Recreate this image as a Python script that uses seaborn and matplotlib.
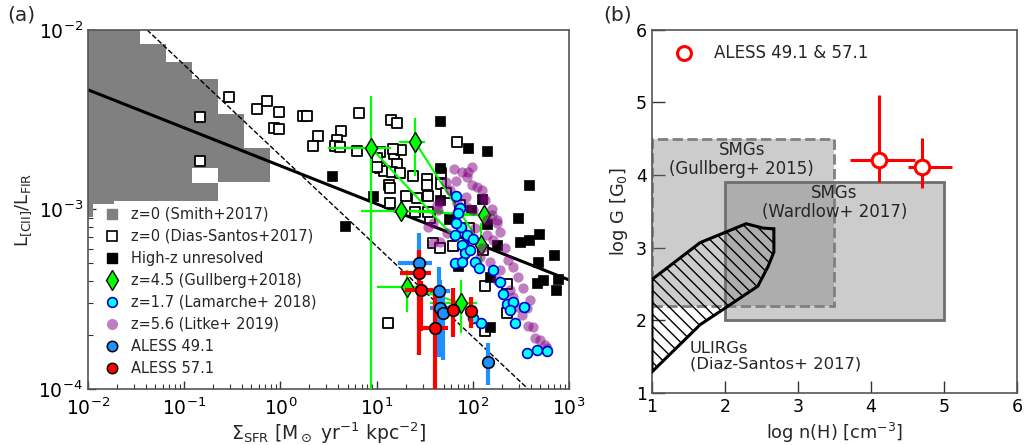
import numpy as np
import matplotlib
matplotlib.use("Agg")
import matplotlib.pyplot as plt
from matplotlib.lines import Line2D
from matplotlib.patches import Polygon, Rectangle
import seaborn as sns

# ---------------- panel (a) data, all in log10 ----------------
# Smith+2017 z=0 binned region (column edges, top and bottom of each column)
smith_edges = [-2.0, -1.95, -1.73, -1.46, -1.19, -0.92, -0.65, -0.38, -0.11]
smith_top = [-1.9, -1.9, -1.9, -2.078, -2.178, -2.273, -2.468, -2.657]
smith_bot = [-3.04, -2.97, -2.953, -2.953, -2.953, -2.953, -2.847, -2.847]
smith_hole_x = [-0.92, -0.65]
smith_hole_y = [-2.852, -2.769]

# fit lines
fit_x = [-2.0, 3.0]
fit_y = [-2.334, -3.393]
dash_x = [-1.387, 2.574]
dash_y = [-2.0, -4.0]

# Dias-Santos+2017 z=0
ds_x = [-0.836, -0.836, -0.534, -0.243, -0.139, -0.015, -0.067, -0.015, 0.235, 0.277,
        0.391, 0.339, 0.630, 0.588, 0.568, 0.620, 0.817, 0.796, 1.035, 1.150,
        1.212, 1.181, 1.254, 1.170, 1.004, 1.212, 1.035, 1.077, 1.160, 1.243,
        1.004, 1.378, 1.524, 1.524, 1.669, 1.669, 1.129, 1.139, 1.306, 1.420,
        1.534, 1.721, 1.139, 1.399, 1.555, 1.534, 1.836, 1.867, 1.960, 1.586,
        1.659, 1.794, 2.106, 2.127, 2.356, 2.356, 2.127, 1.119]
ds_y = [-2.485, -2.730, -2.373, -2.440, -2.396, -2.457, -2.546, -2.552, -2.479, -2.479,
        -2.591, -2.646, -2.563, -2.613, -2.646, -2.652, -2.462, -2.674, -2.680, -2.501,
        -2.518, -2.691, -2.669, -2.663, -2.713, -2.747, -2.769, -2.786, -2.791, -2.797,
        -2.763, -2.813, -2.830, -2.864, -2.797, -2.858, -2.864, -2.880, -2.925, -2.936,
        -2.925, -2.908, -2.964, -3.014, -3.047, -3.014, -2.624, -2.975, -3.103, -3.187,
        -3.214, -3.203, -3.226, -3.426, -3.415, -3.577, -3.677, -3.632]

# high-z unresolved
hz_x = [0.536, 0.672, 1.659, 1.950, 2.148, 1.659, 0.963, 2.584, 2.096, 1.659,
        1.981, 1.753, 2.470, 2.148, 2.252, 2.491, 2.584, 2.688, 2.844, 2.678,
        2.730, 2.886, 2.865, 2.179, 1.846, 2.179, 2.667]
hz_y = [-2.813, -3.092, -2.507, -2.657, -2.674, -2.769, -2.925, -2.864, -2.942, -2.947,
        -3.003, -3.053, -3.047, -3.081, -3.198, -3.181, -3.170, -3.136, -3.253, -3.292,
        -3.393, -3.387, -3.448, -3.376, -3.315, -3.655, -3.409]

# Gullberg+2018 z=4.5
g_x = [0.942, 1.399, 1.254, 2.116, 2.085, 1.316, 1.877, 1.929]
g_y = [-2.657, -2.624, -3.008, -3.031, -3.198, -3.432, -3.521, -3.226]
g_xlo = [0.495, 1.233, 0.838, 1.898, 2.055, 1.004, 1.555, 1.90]
g_xhi = [1.150, 1.503, 1.690, 2.231, 2.115, 1.482, 2.044, 1.96]
g_ylo = [-4.5, -2.813, -3.04, -3.08, -3.320, -3.571, -3.688, -3.26]
g_yhi = [-2.368, -2.490, -2.98, -2.98, -3.075, -3.337, -3.393, -3.19]
g_pairs = [(0, 7), (1, 4), (2, 3), (5, 6)]

# Litke+2019 z=5.6
lk_x = [1.805, 1.888, 1.950, 1.992, 1.940, 1.825, 1.721, 1.992, 2.044, 2.096,
        2.127, 2.200, 2.252, 1.628, 1.534, 2.148, 1.940, 1.836, 1.929, 2.106,
        1.586, 1.638, 1.836, 2.002, 2.200, 2.252, 2.283, 2.210, 2.335, 2.366,
        2.418, 2.470, 2.387, 2.522, 2.595, 2.563, 2.511, 2.574, 2.626, 2.647,
        2.699, 2.751, 2.771, 1.659, 1.732, 1.940, 2.096, 2.075, 2.179, 2.283,
        2.252, 2.418, 2.470, 1.659, 1.586, 1.763, 1.888, 2.023, 2.148]
lk_y = [-2.774, -2.791, -2.791, -2.763, -2.819, -2.841, -2.847, -2.864, -2.875, -2.891,
        -2.947, -2.997, -3.058, -2.975, -3.097, -3.058, -2.986, -2.964, -2.930, -2.936,
        -3.075, -3.003, -3.014, -3.003, -3.031, -3.075, -3.125, -3.170, -3.214, -3.281,
        -3.320, -3.376, -3.448, -3.437, -3.504, -3.549, -3.588, -3.649, -3.655, -3.716,
        -3.727, -3.755, -3.772, -3.181, -3.131, -3.159, -3.214, -3.265, -3.292, -3.337,
        -3.393, -3.487, -3.543, -2.958, -3.187, -2.891, -3.103, -3.103, -3.142]

# Lamarche+2018 z=1.7
lm_x = [1.825, 1.867, 1.846, 1.877, 1.940, 2.002, 1.888, 1.919, 1.971, 2.023,
        2.064, 2.210, 2.283, 2.314, 2.356, 2.418, 2.387, 2.532, 2.439, 2.085,
        2.002, 2.563, 2.667, 2.771, 1.815, 1.888, 1.825, 1.815]
lm_y = [-2.925, -2.992, -3.019, -3.097, -3.142, -3.164, -3.198, -3.242, -3.226, -3.292,
        -3.326, -3.337, -3.404, -3.471, -3.526, -3.515, -3.560, -3.543, -3.632, -3.632,
        -3.604, -3.799, -3.783, -3.788, -3.298, -3.292, -3.075, -3.142]

# ALESS 49.1
b_x = [1.441, 1.649, 1.659, 1.690, 2.158]
b_y = [-3.298, -3.454, -3.549, -3.577, -3.850]
b_xlo = [1.222, 1.555, 1.555, 1.66, 2.13]
b_xhi = [1.576, 1.763, 1.784, 1.72, 2.19]
b_ylo = [-3.504, -3.822, -3.783, -3.838, -3.978]
b_yhi = [-3.131, -3.320, -3.393, -3.448, -3.744]

# ALESS 57.1
r_x = [1.441, 1.462, 1.607, 1.794, 1.981]
r_y = [-3.354, -3.448, -3.660, -3.560, -3.565]
r_xlo = [1.243, 1.295, 1.430, 1.76, 1.919]
r_xhi = [1.565, 1.586, 1.742, 1.83, 2.023]
r_ylo = [-3.811, -3.68, -4.3, -3.710, -3.660]
r_yhi = [-3.226, -3.40, -3.448, -3.437, -3.487]

# ---------------- panel (b) data ----------------
gul_n = [1.0, 3.5]
gul_g = [2.2, 4.5]
war_n = [2.0, 5.0]
war_g = [2.0, 3.9]
ul_n = [1.0, 1.01, 1.66, 2.29, 2.52, 2.67, 2.67, 2.59, 2.45, 1.93, 1.66, 1.0]
ul_g = [2.57, 2.57, 3.07, 3.33, 3.27, 3.26, 2.94, 2.74, 2.47, 2.12, 1.94, 1.29]
al_n = [4.11, 4.70]
al_g = [4.21, 4.11]
al_nlo = [3.71, 4.51]
al_nhi = [4.60, 5.11]
al_glo = [3.91, 3.82]
al_ghi = [5.10, 4.51]


def p10(v):
    return 10 ** np.asarray(v, dtype=float)


def errs(c, lo, hi):
    c, lo, hi = p10(c), p10(lo), p10(hi)
    return [c - lo, hi - c]


def lin_errs(c, lo, hi):
    c, lo, hi = np.asarray(c), np.asarray(lo), np.asarray(hi)
    return [c - lo, hi - c]


sns.set_style("ticks")
plt.rcParams['font.family'] = ['DejaVu Sans']
plt.rcParams['mathtext.fontset'] = 'dejavusans'

fig = plt.figure(figsize=(10.29, 4.45), dpi=100)
ax = fig.add_axes([0.0855, 0.126, 0.4675, 0.807])
bx = fig.add_axes([0.6336, 0.117, 0.3547, 0.816])

# ---------- panel (a) ----------
ax.set_xscale('log')
ax.set_yscale('log')
ex = p10(smith_edges)
ax.fill_between(ex, np.append(p10(smith_bot), p10(smith_bot[-1])),
                np.append(p10(smith_top), p10(smith_top[-1])),
                step='post', color='#808080', lw=0, zorder=1)
ax.fill_between(p10(smith_hole_x), p10(smith_hole_y[0]), p10(smith_hole_y[1]),
                color='white', lw=0, zorder=1.1)

ax.plot(p10(dash_x), p10(dash_y), ls='--', color='black', lw=1.0, zorder=2)
ax.plot(p10(fit_x), p10(fit_y), color='black', lw=2.2, zorder=2)

sns.scatterplot(x=p10(ds_x), y=p10(ds_y), marker='s', s=45, color='white',
                edgecolor='black', linewidth=1.3, ax=ax, zorder=3)
sns.scatterplot(x=p10(hz_x), y=p10(hz_y), marker='s', s=45, color='black',
                edgecolor='black', linewidth=0.5, ax=ax, zorder=3)

for i, j in g_pairs:
    ax.plot(p10([g_x[i], g_x[j]]), p10([g_y[i], g_y[j]]), color='lime', lw=1.5, zorder=4)
ax.errorbar(p10(g_x), p10(g_y), xerr=errs(g_x, g_xlo, g_xhi), yerr=errs(g_y, g_ylo, g_yhi),
            fmt='d', ms=10, mfc='lime', mec='black', mew=1.0, ecolor='lime',
            elinewidth=1.6, capsize=0, zorder=4)

sns.scatterplot(x=p10(lk_x), y=p10(lk_y), marker='o', s=55, color='purple', alpha=0.5,
                linewidth=0, ax=ax, zorder=5)
sns.scatterplot(x=p10(lm_x), y=p10(lm_y), marker='o', s=50, color='cyan',
                edgecolor='mediumblue', linewidth=1.2, ax=ax, zorder=6)

ax.errorbar(p10(b_x), p10(b_y), xerr=errs(b_x, b_xlo, b_xhi), yerr=errs(b_y, b_ylo, b_yhi),
            fmt='none', ecolor='dodgerblue', elinewidth=3.0, capsize=0, zorder=7)
ax.errorbar(p10(r_x), p10(r_y), xerr=errs(r_x, r_xlo, r_xhi), yerr=errs(r_y, r_ylo, r_yhi),
            fmt='none', ecolor='red', elinewidth=3.0, capsize=0, zorder=7)
sns.scatterplot(x=p10(b_x), y=p10(b_y), marker='o', s=70, color='dodgerblue',
                edgecolor='black', linewidth=1.2, ax=ax, zorder=8)
sns.scatterplot(x=p10(r_x), y=p10(r_y), marker='o', s=70, color='red',
                edgecolor='black', linewidth=1.2, ax=ax, zorder=8)

ax.set_xlim(1e-2, 1e3)
ax.set_ylim(1e-4, 1e-2)
ax.tick_params(which='both', direction='in', top=False, right=False, colors='#333333',
               labelcolor='black', labelsize=13.5)
ax.tick_params(which='major', length=6, width=1.0)
ax.tick_params(which='minor', length=3.5, width=0.8)
ax.tick_params(axis='x', which='both', pad=6.5)
ax.set_xlabel(r'$\Sigma_{\rm SFR}$ [M$_\odot$ yr$^{-1}$ kpc$^{-2}$]', fontsize=13.5, labelpad=1)
ax.set_ylabel(r'L$_{\rm [CII]}$/L$_{\rm FIR}$', fontsize=13)

handles = [
    Line2D([], [], ls='none', marker='s', ms=7, mfc='#808080', mec='#808080'),
    Line2D([], [], ls='none', marker='s', ms=7, mfc='white', mec='black', mew=1.2),
    Line2D([], [], ls='none', marker='s', ms=7, mfc='black', mec='black'),
    Line2D([], [], ls='none', marker='d', ms=10, mfc='lime', mec='black', mew=1.0),
    Line2D([], [], ls='none', marker='o', ms=7, mfc='cyan', mec='mediumblue', mew=1.2),
    Line2D([], [], ls='none', marker='o', ms=8, mfc='purple', mec='none', alpha=0.5),
    Line2D([], [], ls='none', marker='o', ms=7.5, mfc='dodgerblue', mec='black', mew=1.1),
    Line2D([], [], ls='none', marker='o', ms=7.5, mfc='red', mec='black', mew=1.1),
]
labels = ['z=0 (Smith+2017)', 'z=0 (Dias-Santos+2017)', 'High-z unresolved',
          'z=4.5 (Gullberg+2018)', 'z=1.7 (Lamarche+ 2018)', 'z=5.6 (Litke+ 2019)',
          'ALESS 49.1', 'ALESS 57.1']
ax.legend(handles, labels, loc='upper left', bbox_to_anchor=(0.023, 0.523),
          frameon=False, fontsize=10.5, handlelength=1.0, handletextpad=0.8,
          labelspacing=0.48, borderaxespad=0, borderpad=0.4)

# ---------- panel (b) ----------
bx.add_patch(Rectangle((gul_n[0], gul_g[0]), gul_n[1] - gul_n[0], gul_g[1] - gul_g[0],
                       facecolor='gray', alpha=0.4, lw=0, zorder=1))
bx.add_patch(Rectangle((gul_n[0], gul_g[0]), gul_n[1] - gul_n[0], gul_g[1] - gul_g[0],
                       facecolor='none', edgecolor='#7f7f7f', ls='--', lw=2.0, zorder=2))
bx.add_patch(Rectangle((war_n[0], war_g[0]), war_n[1] - war_n[0], war_g[1] - war_g[0],
                       facecolor='gray', alpha=0.4, lw=0, zorder=1))
bx.add_patch(Rectangle((war_n[0], war_g[0]), war_n[1] - war_n[0], war_g[1] - war_g[0],
                       facecolor='none', edgecolor='#6e6e6e', lw=2.0, zorder=2))

ulirg = Polygon(np.column_stack([ul_n, ul_g]), closed=True, facecolor='none',
                edgecolor='black', lw=2.2, zorder=3)
bx.add_patch(ulirg)
# diagonal hatching clipped to the ULIRG region
hx = np.array([0.8, 3.0])
for c in np.arange(1.1, 5.2, 0.165):
    ln, = bx.plot(hx, c - (hx - 1.0), color='black', lw=1.0, zorder=2.9)
    ln.set_clip_path(ulirg)

bx.errorbar(al_n, al_g, xerr=lin_errs(al_n, al_nlo, al_nhi),
            yerr=lin_errs(al_g, al_glo, al_ghi),
            fmt='none', ecolor='red', elinewidth=2.2, capsize=0, zorder=4)
sns.scatterplot(x=al_n, y=al_g, marker='o', s=110, color='white', edgecolor='red',
                linewidth=2.2, ax=bx, zorder=5)

bx.text(2.23, 4.21, 'SMGs\n(Gullberg+ 2015)', ha='center', va='center', fontsize=12,
        linespacing=1.05, zorder=6)
bx.text(3.5, 3.62, 'SMGs\n(Wardlow+ 2017)', ha='center', va='center', fontsize=12,
        linespacing=1.05, zorder=6)
bx.text(1.52, 1.51, 'ULIRGs\n(Diaz-Santos+ 2017)', ha='left', va='center', fontsize=11.8,
        linespacing=1.05, zorder=6)

bx.set_xlim(1, 6)
bx.set_ylim(1, 6)
bx.set_xticks([1, 2, 3, 4, 5, 6])
bx.set_yticks([1, 2, 3, 4, 5, 6])
bx.tick_params(direction='in', length=9, width=1.0, colors='#333333', labelcolor='black',
               labelsize=12.5, top=False, right=False)
bx.set_xlabel(r'log n(H) [cm$^{-3}$]', fontsize=12.8)
bx.set_ylabel(r'log G [G$_0$]', fontsize=12.8)
bx.legend([Line2D([], [], ls='none', marker='o', ms=10, mfc='white', mec='red', mew=2.2)],
          ['ALESS 49.1 & 57.1'], loc='upper left', bbox_to_anchor=(0.047, 0.978),
          frameon=False, fontsize=12, handlelength=1.0, handletextpad=1.3,
          borderaxespad=0, borderpad=0.4)

for a in (ax, bx):
    for sp in a.spines.values():
        sp.set_color('#555555')
        sp.set_linewidth(1.2)
        sp.set_visible(True)

fig.text(0.007, 0.966, '(a)', fontsize=14.5, va='center')
fig.text(0.586, 0.966, '(b)', fontsize=14.5, va='center')

fig.savefig('out.png', dpi=100)
